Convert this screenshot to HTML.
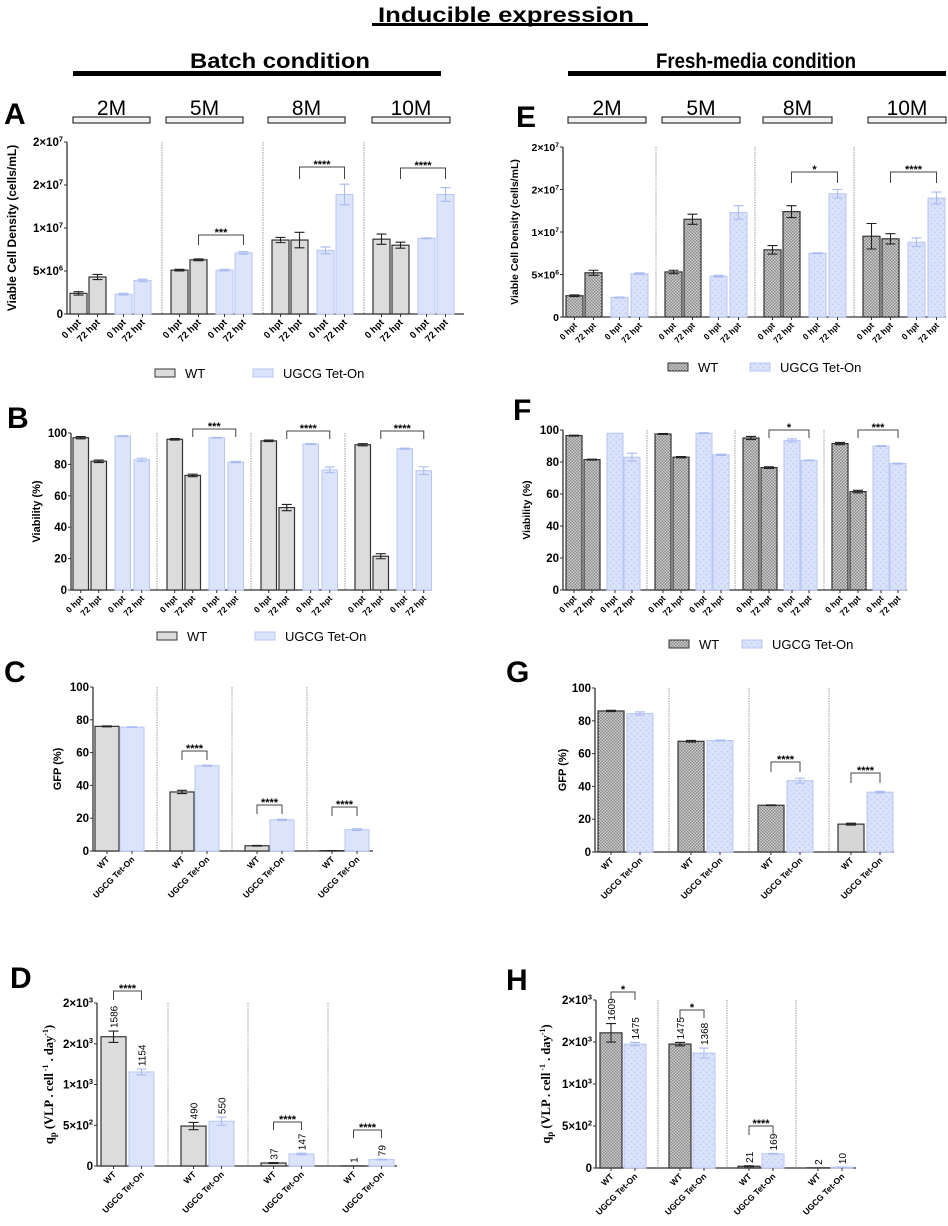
<!DOCTYPE html>
<html><head><meta charset="utf-8"><style>
html,body{margin:0;padding:0;background:#fff;}
svg{display:block;font-family:"Liberation Sans",Arial,sans-serif;}
</style></head><body>
<svg id="fig" width="948" height="1226" viewBox="0 0 948 1226" xmlns="http://www.w3.org/2000/svg">
<defs>
<pattern id="hatchWT" width="3" height="3" patternUnits="userSpaceOnUse"><rect width="3" height="3" fill="#cfcfcf"/><rect width="1.5" height="1.5" fill="#8a8a8a"/><rect x="1.5" y="1.5" width="1.5" height="1.5" fill="#8a8a8a"/></pattern>
<pattern id="dotUG" width="6" height="6" patternUnits="userSpaceOnUse"><rect width="6" height="6" fill="#dbe3fb"/><circle cx="1.5" cy="1.5" r="1" fill="#c4d0f7"/><circle cx="4.5" cy="4.5" r="1" fill="#c4d0f7"/></pattern>
</defs>
<g>
<text x="506" y="22" font-size="21" font-weight="bold" text-anchor="middle" textLength="256" lengthAdjust="spacingAndGlyphs">Inducible expression</text>
<rect x="372" y="23" width="276" height="3" fill="#000"/>
<text x="280" y="68" font-size="21" font-weight="bold" text-anchor="middle" textLength="180" lengthAdjust="spacingAndGlyphs">Batch condition</text>
<rect x="73" y="71" width="368" height="5" fill="#000"/>
<text x="756" y="68" font-size="21" font-weight="bold" text-anchor="middle" textLength="200" lengthAdjust="spacingAndGlyphs">Fresh-media condition</text>
<rect x="568" y="71" width="378" height="5" fill="#000"/>
</g>
</svg>
<script>
// ---- data ----
const conditions = ["2M","5M","8M","10M"];
const hptLabels = ["0 hpt","72 hpt","0 hpt","72 hpt"];
const strainLabels = ["WT","UGCG Tet-On"];
const vcdTicks = ["0","5×10^6","1×10^7","2×10^7","2×10^7"];
const vcdTickValues = [0,5,10,15,20];
const pctTicks = ["0","20","40","60","80","100"];
const pctTickValues = [0,20,40,60,80,100];
const qpTicks = ["0","5×10^2","1×10^3","2×10^3","2×10^3"];
const qpTickValues = [0,500,1000,1500,2000];
// A: VCD (1e6 cells/mL), batch
const vcdBatch = [[2.4,4.3,2.3,3.9],[5.1,6.3,5.1,7.1],[8.6,8.6,7.4,13.9],[8.7,8.0,8.8,13.9]];
const vcdBatchErr = [[0.2,0.3,0.1,0.15],[0.1,0.1,0.1,0.15],[0.3,0.9,0.4,1.2],[0.6,0.35,0.05,0.8]];
// E: VCD fresh-media
const vcdFresh = [[2.5,5.2,2.3,5.1],[5.3,11.5,4.8,12.3],[7.9,12.4,7.5,14.5],[9.5,9.2,8.8,14.0]];
const vcdFreshErr = [[0.1,0.3,0.05,0.1],[0.2,0.6,0.1,0.8],[0.5,0.7,0.05,0.5],[1.5,0.6,0.5,0.7]];
// B: viability batch
const viaBatch = [[97,82,98,83],[96,73,97,81.5],[95,52.5,93,76.5],[92.5,21.5,90,76]];
const viaBatchErr = [[0.7,0.8,0.3,1],[0.5,0.8,0.2,0.4],[0.5,2,0.3,1.8],[0.7,1.6,0.3,2.5]];
// F: viability fresh
const viaFresh = [[96.5,81.5,98,83],[97.5,83,98,84.5],[95,76.5,93.5,81],[91.5,61.5,90,79]];
const viaFreshErr = [[0.3,0.3,0,2.5],[0.3,0.4,0.3,0.4],[1,0.5,1,0.2],[0.7,0.8,0.3,0.3]];
// C/G: GFP %
const gfpBatch = [[76,75.5],[36,52],[3.2,19],[0.2,13]];
const gfpBatchErr = [[0.3,0.2],[1,0.3],[0.2,0.4],[0.1,0.5]];
const gfpFresh = [[86,84.5],[67.5,68],[28.5,43.5],[17,36.5]];
const gfpFreshErr = [[0.4,1],[0.5,0.3],[0.2,1.5],[0.6,0.5]];
// D/H: qp
const qpBatch = [[1586,1154],[490,550],[37,147],[1,79]];
const qpBatchErr = [[70,35],[45,50],[5,10],[0,4]];
const qpBatchLabels = [["1586","1154"],["490","550"],["37","147"],["1","79"]];
const qpFresh = [[1609,1475],[1475,1368],[21,169],[2,10]];
const qpFreshErr = [[110,20],[20,60],[5,5],[0,1]];
const qpFreshLabels = [["1609","1475"],["1475","1368"],["21","169"],["2","10"]];

const NS="http://www.w3.org/2000/svg";
const svg=document.getElementById("fig");
function mk(tag,attrs,parent){const e=document.createElementNS(NS,tag);for(const k in attrs)e.setAttribute(k,attrs[k]);(parent||svg).appendChild(e);return e;}
function tickText(parent,x,y,label,size){
  const t=mk("text",{x:x,y:y,"font-size":size,"font-weight":"bold","text-anchor":"end"},parent);
  const p=label.split("^");
  t.textContent=p[0];
  if(p[1]){const s=mk("tspan",{"font-size":size*0.65,dy:-size*0.4},t);s.textContent=p[1];}
  return t;
}

function panel(cfg){
  const g=mk("g",{});
  
  
  const ys=v=>cfg.y0-(v/cfg.max)*(cfg.y0-cfg.yT);
  const L=mk("text",{x:cfg.letterX,y:cfg.letterY,"font-size":30,"font-weight":"bold"},g);
  L.textContent=cfg.letter;
  
  
  for(let i=1;i<cfg.groupX.length;i++){
    const sx=cfg.groupX[i]-cfg.sepBack;
    const s=mk("line",{x1:sx,x2:sx,y1:cfg.yT,y2:cfg.y0,stroke:"#888","stroke-width":0.8,"stroke-dasharray":"1.5,1"},g);
    
    
  }
  const ax=mk("path",{d:`M${cfg.axL},${cfg.yT} V${cfg.y0} H${cfg.axR}`,stroke:"#333","stroke-width":1.3,fill:"none"},g);
  
  
  cfg.tickValues.forEach((v,i)=>{
    const y=ys(v);
    mk("line",{x1:cfg.axL-3,x2:cfg.axL,y1:y,y2:y,stroke:"#333","stroke-width":1},g);
    const t=tickText(g,cfg.axL-4,y+4,cfg.ticks[i],cfg.tickSize);
    
    
  });
  const yt=mk("text",{x:0,y:0,"font-size":cfg.ytSize,"font-weight":"bold","text-anchor":"middle",transform:`translate(${cfg.ytX},${(cfg.y0+cfg.yT)/2}) rotate(-90)`},g);
  if(cfg.serif){yt.setAttribute("font-family","Liberation Serif, serif");
    yt.textContent="q";const s1=mk("tspan",{"font-size":9,dy:3},yt);s1.textContent="p";
    const s2=mk("tspan",{dy:-3},yt);s2.textContent=" (VLP . cell";
    const s3=mk("tspan",{"font-size":8,dy:-5},yt);s3.textContent=" -1";
    const s4=mk("tspan",{dy:5},yt);s4.textContent=" . day";
    const s5=mk("tspan",{"font-size":8,dy:-5},yt);s5.textContent="-1";
    const s6=mk("tspan",{dy:5},yt);s6.textContent=")";
  } else yt.textContent=cfg.ytitle;
  
  
  cfg.values.forEach((grp,gi)=>{
    grp.forEach((v,bi)=>{
      const isUG=cfg.isUG(bi);
      const x=cfg.groupX[gi]+cfg.offsets[bi];
      const y=ys(v);
      let fill=isUG?"#dce4fb":"#dcdcdc";
      if(cfg.pattern) fill=isUG?"url(#dotUG)":"url(#hatchWT)";
      if(cfg.solidWT && cfg.solidWT(gi) && !isUG) fill="#d6d6d6";
      const r=mk("rect",{x:x,y:y,width:cfg.bw,height:Math.max(0,cfg.y0-y),fill:fill,stroke:isUG?"#b7c6f4":"#333","stroke-width":isUG?1:1.2},g);
      
      
      const e=cfg.errors[gi][bi], cx=x+cfg.bw/2, col=isUG?"#a9bbf0":"#222";
      if(e>0){
        const eb=mk("path",{d:`M${cx},${ys(v+e)} V${ys(Math.max(0,v-e))} M${cx-5},${ys(v+e)} H${cx+5} M${cx-5},${ys(Math.max(0,v-e))} H${cx+5}`,stroke:col,"stroke-width":1.1,fill:"none"},g);
        
        
      }
      mk("line",{x1:cx,x2:cx,y1:cfg.y0,y2:cfg.y0+3,stroke:"#333","stroke-width":1},g);
      const lab=cfg.xlabels[bi];
      const xl=mk("text",{x:0,y:0,"font-size":cfg.xlSize,"font-weight":"bold","text-anchor":"end",transform:`translate(${cx+3},${cfg.y0+9}) rotate(-45)`},g);
      xl.textContent=lab;
      
      
      if(cfg.valueLabels){
        const vt=mk("text",{x:0,y:0,"font-size":10,"text-anchor":"start",transform:`translate(${cx+4},${ys(v+e)-3}) rotate(-90)`},g);
        vt.textContent=cfg.valueLabels[gi][bi];
        
        
      }
    });
  });
  cfg.sig.forEach(s=>{
    const x1=cfg.groupX[s.g]+cfg.offsets[s.a]+cfg.bw/2, x2=cfg.groupX[s.g]+cfg.offsets[s.b]+cfg.bw/2;
    const b=mk("path",{d:`M${x1},${s.y+s.h} V${s.y} H${x2} V${s.y+s.h}`,stroke:"#444","stroke-width":1,fill:"none"},g);
    
    
    const st=mk("text",{x:(x1+x2)/2,y:s.y+1,"font-size":11,"font-weight":"bold","text-anchor":"middle"},g);
    st.textContent=s.t;
    
    
  });
  if(cfg.boxes){cfg.boxes.forEach((bx,i)=>{
    const r=mk("rect",{x:bx[0],y:117,width:bx[1]-bx[0],height:6,fill:"#f3f3f3",stroke:"#333","stroke-width":1.2},g);
    
    
    const t=mk("text",{x:(bx[0]+bx[1])/2,y:115,"font-size":21,"text-anchor":"middle"},g);
    t.textContent=conditions[i];
    
    
  });}
  if(cfg.legend){const lg=cfg.legend;
    const lgG=mk("g",{},g);
    
    
    [[lg.x1,"WT",false],[lg.x2,"UGCG Tet-On",true]].forEach(([lx,txt,ug])=>{
      let f=ug?"#dce4fb":"#dcdcdc"; if(cfg.pattern) f=ug?"url(#dotUG)":"url(#hatchWT)";
      mk("rect",{x:lx,y:lg.y-4,width:20,height:8,fill:f,stroke:ug?"#b7c6f4":"#333","stroke-width":1},lgG);
      const t=mk("text",{x:lx+30,y:lg.y+5,"font-size":13},lgG);
      t.textContent=txt;
      
      
    });
  }
}
const ug4=i=>i>=2, ug2=i=>i===1;
panel({name:"panel-a-vcd-batch",letter:"A",letterX:4,letterY:124,axL:67,axR:464,y0:314,yT:142,max:20,ticks:vcdTicks,tickValues:vcdTickValues,tickSize:11.5,
  ytitle:"Viable Cell Density (cells/mL)",ytX:16,ytSize:12,groupX:[67,168,269,370],sepBack:6,offsets:[3,22,48,67],bw:17,values:vcdBatch,errors:vcdBatchErr,isUG:ug4,xlabels:hptLabels,xlSize:9.5,
  sig:[{g:1,a:1,b:3,y:235,h:10,t:"***"},{g:2,a:1,b:3,y:167,h:12,t:"****"},{g:3,a:1,b:3,y:168,h:11,t:"****"}],
  boxes:[[73,150],[166,243],[268,345],[372,450]],legend:{x1:155,x2:253,y:373}});
panel({name:"panel-b-viability-batch",letter:"B",letterX:7,letterY:428,axL:71,axR:432,y0:590,yT:433,max:100,ticks:pctTicks,tickValues:pctTickValues,tickSize:11.5,
  ytitle:"Viability (%)",ytX:40,ytSize:11,groupX:[71,165,259,353],sepBack:8,offsets:[2,20,44,63],bw:15.5,values:viaBatch,errors:viaBatchErr,isUG:ug4,xlabels:hptLabels,xlSize:8.5,
  sig:[{g:1,a:1,b:3,y:429,h:8,t:"***"},{g:2,a:1,b:3,y:431,h:8,t:"****"},{g:3,a:1,b:3,y:431,h:8,t:"****"}],
  legend:{x1:157,x2:255,y:636}});
panel({name:"panel-c-gfp-batch",letter:"C",letterX:4,letterY:682,axL:93,axR:373,y0:851,yT:687,max:100,ticks:pctTicks,tickValues:pctTickValues,tickSize:11.5,
  ytitle:"GFP (%)",ytX:61,ytSize:11,groupX:[95,170,245,320],sepBack:13,offsets:[0,25],bw:24,values:gfpBatch,errors:gfpBatchErr,isUG:ug2,xlabels:strainLabels,xlSize:8.5,
  sig:[{g:1,a:0,b:1,y:751,h:9,t:"****"},{g:2,a:0,b:1,y:805,h:9,t:"****"},{g:3,a:0,b:1,y:807,h:9,t:"****"}]});
panel({name:"panel-d-qp-batch",letter:"D",letterX:10,letterY:988,axL:97,axR:397,y0:1166,yT:1003,max:2000,ticks:qpTicks,tickValues:qpTickValues,tickSize:11.5,
  ytitle:"",serif:true,ytX:53,ytSize:12.5,groupX:[101,181,261,341],sepBack:13,offsets:[0,28],bw:25,values:qpBatch,errors:qpBatchErr,isUG:ug2,xlabels:strainLabels,xlSize:8.5,valueLabels:qpBatchLabels,
  sig:[{g:0,a:0,b:1,y:991,h:9,t:"****"},{g:2,a:0,b:1,y:1122,h:8,t:"****"},{g:3,a:0,b:1,y:1130,h:8,t:"****"}]});
panel({name:"panel-e-vcd-fresh",letter:"E",letterX:516,letterY:127,axL:563,axR:946,y0:317,yT:147,max:20,ticks:vcdTicks,tickValues:vcdTickValues,tickSize:10.5,pattern:true,
  ytitle:"Viable Cell Density (cells/mL)",ytX:518,ytSize:10.5,groupX:[565,664,763,862],sepBack:8,offsets:[1,20,46,66],bw:17,values:vcdFresh,errors:vcdFreshErr,isUG:ug4,xlabels:hptLabels,xlSize:8.5,
  sig:[{g:2,a:1,b:3,y:172,h:11,t:"*"},{g:3,a:1,b:3,y:172,h:11,t:"****"}],
  boxes:[[568,646],[662,740],[763,832],[868,946]],legend:{x1:668,x2:750,y:367}});
panel({name:"panel-f-viability-fresh",letter:"F",letterX:513,letterY:420,axL:563,axR:907,y0:590,yT:430,max:100,ticks:pctTicks,tickValues:pctTickValues,tickSize:11.5,pattern:true,
  ytitle:"Viability (%)",ytX:530,ytSize:10.5,groupX:[566,655,743,832],sepBack:8,offsets:[0,18,41,58],bw:16,values:viaFresh,errors:viaFreshErr,isUG:ug4,xlabels:hptLabels,xlSize:8.5,
  sig:[{g:2,a:1,b:3,y:430,h:8,t:"*"},{g:3,a:1,b:3,y:430,h:8,t:"***"}],
  legend:{x1:669,x2:742,y:644}});
panel({name:"panel-g-gfp-fresh",letter:"G",letterX:506,letterY:682,axL:595,axR:894,y0:852,yT:688,max:100,ticks:pctTicks,tickValues:pctTickValues,tickSize:11.5,pattern:true,solidWT:g=>g===3,
  ytitle:"GFP (%)",ytX:566,ytSize:11,groupX:[598,678,758,838],sepBack:9,offsets:[0,29],bw:26,values:gfpFresh,errors:gfpFreshErr,isUG:ug2,xlabels:strainLabels,xlSize:8.5,
  sig:[{g:2,a:0,b:1,y:762,h:10,t:"****"},{g:3,a:0,b:1,y:773,h:10,t:"****"}]});
panel({name:"panel-h-qp-fresh",letter:"H",letterX:506,letterY:990,axL:596,axR:856,y0:1168,yT:1000,max:2000,ticks:qpTicks,tickValues:qpTickValues,tickSize:11.5,pattern:true,
  ytitle:"",serif:true,ytX:550,ytSize:12.5,groupX:[600,669,738,807],sepBack:11,offsets:[0,24],bw:22,values:qpFresh,errors:qpFreshErr,isUG:ug2,xlabels:strainLabels,xlSize:8.5,valueLabels:qpFreshLabels,
  sig:[{g:0,a:0,b:1,y:992,h:8,t:"*"},{g:1,a:0,b:1,y:1010,h:8,t:"*"},{g:2,a:0,b:1,y:1126,h:9,t:"****"}]});
</script>
</body></html>
